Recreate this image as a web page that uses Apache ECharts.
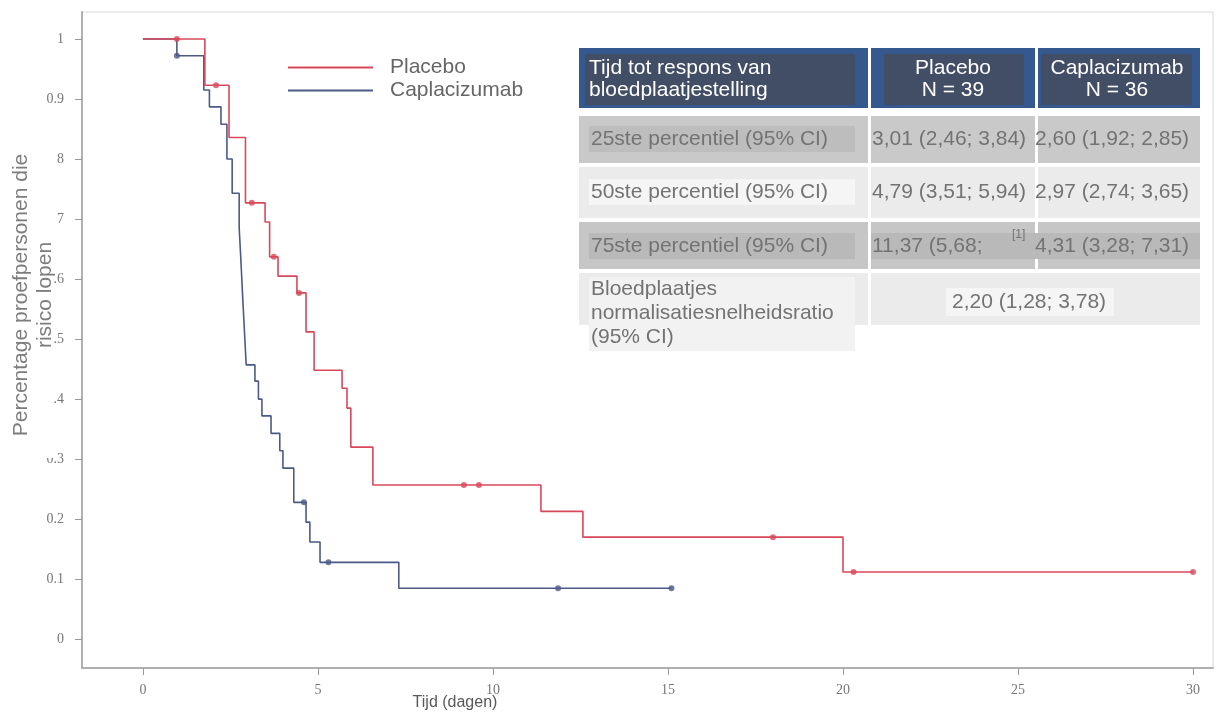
<!DOCTYPE html>
<html>
<head>
<meta charset="utf-8">
<script src="https://cdn.jsdelivr.net/npm/echarts@6/dist/echarts.min.js"></script>
<style>html,body{margin:0;padding:0;background:#fff}#c{width:1219px;height:712px}</style>
</head>
<body>
<div id="c"></div>
<script>
// ---- data ----
var seriesNames = ['Placebo', 'Caplacizumab'];
var placeboT = [0, 1.77, 2.46, 2.93, 3.49, 3.62, 3.86, 4.40, 4.66, 4.89, 5.69, 5.83, 5.94, 6.57, 11.37, 12.57, 20.0, 30.0];
var placeboS = [1.0, 0.923, 0.836, 0.727, 0.695, 0.637, 0.605, 0.577, 0.512, 0.448, 0.418, 0.385, 0.320, 0.257, 0.213, 0.170, 0.112, 0.112];
var placeboCensT = [0.97, 2.09, 3.11, 3.74, 4.46, 9.17, 9.60, 18.0, 20.3, 30.0];
var placeboCensS = [1.0, 0.923, 0.727, 0.637, 0.577, 0.257, 0.257, 0.170, 0.112, 0.112];
var capT = [0, 0.97, 1.74, 1.90, 2.23, 2.40, 2.55, 2.75, 2.80, 2.85, 2.90, 2.95, 3.20, 3.30, 3.40, 3.66, 3.91, 4.00, 4.31, 4.66, 4.77, 5.06, 7.31, 15.1];
var capS = [1.0, 0.972, 0.915, 0.887, 0.858, 0.800, 0.743, 0.686, 0.630, 0.570, 0.514, 0.457, 0.430, 0.400, 0.372, 0.343, 0.314, 0.285, 0.228, 0.195, 0.162, 0.128, 0.085, 0.085];
var capCensT = [0.97, 4.60, 5.30, 11.86, 15.1];
var capCensS = [0.972, 0.228, 0.128, 0.085, 0.085];
var xTicks = [0, 5, 10, 15, 20, 25, 30];
var yTicks = [0, 0.1, 0.2, 0.3, 0.4, 0.5, 0.6, 0.7, 0.8, 0.9, 1];
var yTickLabels = ['0', '0.1', '0.2', '0.3', '0.4', '0.5', '0.6', '0.7', '0.8', '0.9', '1'];
var xAxisTitle = 'Tijd (dagen)';
var yAxisTitle = ['Percentage proefpersonen die', 'risico lopen'];
var tableHeader = [['Tijd tot respons van', 'bloedplaatjestelling'], ['Placebo', 'N = 39'], ['Caplacizumab', 'N = 36']];
var rowLabels = ['25ste percentiel (95% CI)', '50ste percentiel (95% CI)', '75ste percentiel (95% CI)'];
var rowPlacebo = ['3,01 (2,46; 3,84)', '4,79 (3,51; 5,94)', '11,37 (5,68;'];
var rowCap = ['2,60 (1,92; 2,85)', '2,97 (2,74; 3,65)', '4,31 (3,28; 7,31)'];
var ratioLabel = ['Bloedplaatjes', 'normalisatiesnelheidsratio', '(95% CI)'];
var ratioValue = '2,20 (1,28; 3,78)';
var footnote = '[1]';

// ---- helpers ----
function pairs(t, s) { return t.map(function (v, i) { return [v, s[i]]; }); }
var RED = '#d8485a', BLUE = '#4b5a86';
var SANS = 'Liberation Sans, Arial, sans-serif';
var SERIF = 'Liberation Serif, serif';
var g = [];
function rect(x, y, w, h, fill) { g.push({type: 'rect', shape: {x: x, y: y, width: w, height: h}, style: {fill: fill}, z: 100, silent: true}); }
function text(x, y, s, opt) {
  opt = opt || {};
  g.push({type: 'text', x: x, y: y, z: 101, silent: true, rotation: opt.rot || 0,
    style: {text: s, fill: opt.color || '#737373', font: (opt.size || 21) + 'px ' + SANS,
      textAlign: opt.align || 'left', textVerticalAlign: 'middle'}});
}
// table header
rect(579, 48, 289, 60, '#35598f'); rect(585, 54, 270, 51, '#424d66');
rect(871, 48, 164, 60, '#35598f'); rect(884, 54, 140, 51, '#424d66');
rect(1038, 48, 162, 60, '#35598f'); rect(1041, 54, 151, 51, '#424d66');
text(589, 68, tableHeader[0][0], {color: '#fff'}); text(589, 90, tableHeader[0][1], {color: '#fff'});
text(953, 68, tableHeader[1][0], {color: '#fff', align: 'center'}); text(953, 90, tableHeader[1][1], {color: '#fff', align: 'center'});
text(1117, 68, tableHeader[2][0], {color: '#fff', align: 'center'}); text(1117, 90, tableHeader[2][1], {color: '#fff', align: 'center'});
// rows
var rowY = [[116, 47, 139, '#c9c9c9', '#bdbdbd'], [167, 51, 192, '#ebebeb', '#f5f5f5'], [222, 47, 246, '#c6c6c6', '#b9b9b9']];
for (var i = 0; i < 3; i++) {
  var r = rowY[i];
  rect(579, r[0], 289, r[1], r[3]); rect(871, r[0], 164, r[1], r[3]); rect(1038, r[0], 162, r[1], r[3]);
  rect(589, r[2] - 13, 266, 26, r[4]);
  if (i === 2) rect(871, r[2] - 13, 329, 26, r[4]);
  text(591, r[2], rowLabels[i]); text(872, r[2], rowPlacebo[i]); text(1035, r[2], rowCap[i]);
}
text(1012, 235, footnote, {size: 12});
rect(579, 273, 289, 52, '#ebebeb'); rect(871, 273, 329, 52, '#ebebeb');
rect(589, 277, 266, 74, '#f2f2f2'); rect(946, 288, 168, 28, '#f5f5f5');
text(591, 289, ratioLabel[0]); text(591, 313, ratioLabel[1]); text(591, 337, ratioLabel[2]);
text(1029, 302, ratioValue, {align: 'center'});
// axis titles
rect(5, 146, 48, 312, '#ffffff');
rect(5, 146, 52, 86, '#ffffff');
text(21, 295, yAxisTitle[0], {rot: Math.PI / 2, align: 'center', color: '#7d7d7d'});
text(45, 295, yAxisTitle[1], {rot: Math.PI / 2, align: 'center', color: '#7d7d7d'});
text(455, 703, xAxisTitle, {align: 'center', size: 16, color: '#585858'});

var chart = echarts.init(document.getElementById('c'));
chart.setOption({
  animation: false,
  backgroundColor: '#fff',
  grid: {left: 82, right: 6, top: 12, bottom: 44, show: true, borderColor: '#d8d8d8', borderWidth: 1},
  xAxis: {type: 'value', min: -1.74, max: 30.57,
    axisLine: {show: true, onZero: false, lineStyle: {color: '#b0b0b0', width: 2}},
    axisTick: {show: true, customValues: xTicks, length: 7, lineStyle: {color: '#999'}},
    axisLabel: {customValues: xTicks, margin: 15, color: '#777', fontFamily: SERIF, fontSize: 14},
    splitLine: {show: false}},
  yAxis: {type: 'value', min: -0.048, max: 1.045,
    axisLine: {show: true, onZero: false, lineStyle: {color: '#b0b0b0', width: 2}},
    axisTick: {show: true, customValues: yTicks, length: 7, lineStyle: {color: '#999'}},
    axisLabel: {customValues: yTicks, margin: 18, color: '#777', fontFamily: SERIF, fontSize: 14,
      formatter: function (v) { var k = yTicks.findIndex(function (t) { return Math.abs(t - v) < 1e-6; }); return k >= 0 ? yTickLabels[k] : ''; }},
    splitLine: {show: false}},
  legend: {left: 283, top: 52, orient: 'vertical', itemWidth: 85, itemHeight: 2, itemGap: 2,
    data: [{name: seriesNames[0], icon: 'rect'}, {name: seriesNames[1], icon: 'rect'}],
    textStyle: {fontFamily: SANS, fontSize: 21, color: '#666', padding: [0, 0, 0, 12], lineHeight: 20}},
  series: [
    {name: seriesNames[0], type: 'line', step: 'end', symbol: 'none', data: pairs(placeboT, placeboS),
      lineStyle: {color: RED, width: 1.6}, itemStyle: {color: RED}, z: 3},
    {name: seriesNames[1], type: 'line', step: 'end', symbol: 'none', data: pairs(capT, capS),
      lineStyle: {color: BLUE, width: 1.6}, itemStyle: {color: BLUE}, z: 2},
    {name: 'Placebo gecensureerd', type: 'scatter', symbol: 'circle', symbolSize: 6, data: pairs(placeboCensT, placeboCensS), itemStyle: {color: RED}, z: 4},
    {name: 'Caplacizumab gecensureerd', type: 'scatter', symbol: 'circle', symbolSize: 6, data: pairs(capCensT, capCensS), itemStyle: {color: BLUE}, z: 4}
  ],
  graphic: {elements: g}
});
</script>
</body>
</html>
